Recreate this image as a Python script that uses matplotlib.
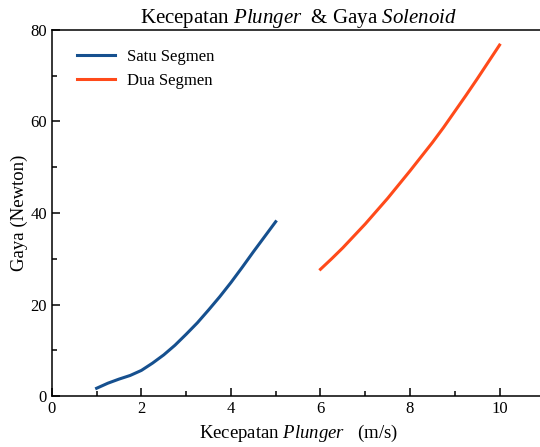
import matplotlib
matplotlib.use("Agg")
import matplotlib.pyplot as plt
from matplotlib.ticker import MultipleLocator

# data
satu_x = [1.0, 1.25, 1.5, 1.75, 2.0, 2.25, 2.5, 2.75, 3.0, 3.25, 3.5, 3.75,
          4.0, 4.25, 4.5, 4.75, 5.0]
satu_y = [1.7, 2.8, 3.7, 4.5, 5.6, 7.2, 9.0, 11.1, 13.5, 16.0, 18.8, 21.7,
          24.8, 28.1, 31.5, 34.8, 38.1]

dua_x = [6.0, 6.25, 6.5, 6.75, 7.0, 7.25, 7.5, 7.75, 8.0, 8.25, 8.5, 8.75,
         9.0, 9.25, 9.5, 9.75, 10.0]
dua_y = [27.7, 30.0, 32.4, 35.0, 37.6, 40.4, 43.2, 46.2, 49.2, 52.3, 55.4, 58.7,
         62.2, 65.7, 69.3, 73.0, 76.7]

plt.rcParams['font.family'] = 'Liberation Serif'
plt.rcParams['mathtext.fontset'] = 'custom'
plt.rcParams['mathtext.rm'] = 'Liberation Serif'
plt.rcParams['mathtext.it'] = 'Liberation Serif:italic'

fig = plt.figure(figsize=(5.4, 4.47), dpi=100)
ax = fig.add_axes([0.096, 0.114, 0.912, 0.819])

ax.plot(satu_x, satu_y, color='#16508f', lw=2.2, label='Satu Segmen')
ax.plot(dua_x, dua_y, color='#ff4a1a', lw=2.2, label='Dua Segmen')

ax.set_xlim(0, 11)
ax.set_ylim(0, 80)
ax.xaxis.set_major_locator(MultipleLocator(2))
ax.xaxis.set_minor_locator(MultipleLocator(1))
ax.yaxis.set_major_locator(MultipleLocator(20))
ax.yaxis.set_minor_locator(MultipleLocator(10))
ax.tick_params(which='both', direction='in', labelsize=12, width=1.1)
ax.tick_params(which='major', length=6)
ax.tick_params(which='minor', length=3.5)
for s in ax.spines.values():
    s.set_linewidth(1.1)
ax.spines['right'].set_visible(False)

ax.set_title(r'Kecepatan $\it{Plunger}$  & Gaya $\it{Solenoid}$', fontsize=15, pad=4)
ax.set_xlabel(r'Kecepatan $\it{Plunger}$   (m/s)', fontsize=13.5)
ax.set_ylabel('Gaya (Newton)', fontsize=13.5, labelpad=2)

ax.legend(loc='upper left', frameon=False, fontsize=12, handlelength=2.3,
          handletextpad=0.7, bbox_to_anchor=(0.02, 0.99))

fig.savefig('out.png', dpi=100)
